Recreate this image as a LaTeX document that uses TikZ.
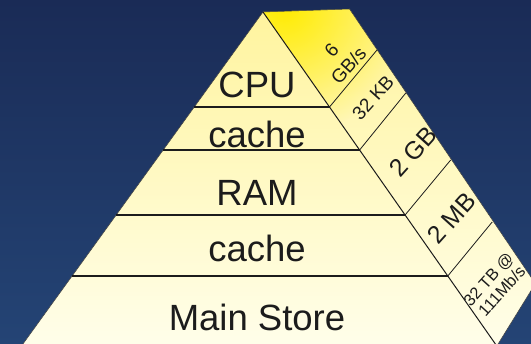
\documentclass[tikz,border=0pt]{standalone}
\usepackage{fontspec}
\setmainfont{Liberation Sans}
\usetikzlibrary{fadings}

\definecolor{navytop}{RGB}{26,43,86}
\definecolor{navybot}{RGB}{36,68,117}
\definecolor{creamtop}{RGB}{255,244,158}
\definecolor{creambot}{RGB}{255,254,234}
\definecolor{glowyellow}{RGB}{255,236,0}
\definecolor{ink}{RGB}{28,28,28}

\tikzfading[name=glow, inner color=transparent!0, outer color=transparent!100]

\begin{document}
\begin{tikzpicture}[x=1pt, y=-1pt,
  face/.style={top color=creamtop, bottom color=creambot},
  rim/.style={draw=ink!85, line width=0.5pt},
  level/.style={draw=ink, line width=1.2pt},
  divider/.style={draw=ink, line width=0.8pt},
  tier/.style={font=\fontsize{36.5}{40}\selectfont, text=ink, anchor=base, inner sep=0pt},
  rate/.style={text=ink, rotate=48, align=center, inner sep=0pt}]

\useasboundingbox (0,0) rectangle (531,344);
\fill[top color=navytop, bottom color=navybot] (0,0) rectangle (531,344);
\clip (0,0) rectangle (531,344);

% corners of the pyramid
\coordinate (apex) at (263,12);
\coordinate (back) at (349.5,9);
\coordinate (fl)   at (21.5,346);
\coordinate (fr)   at (496.8,346);
\coordinate (br)   at (535.4,283.6);

% level lines: left edge, front edge
\coordinate (l1L) at (194.3,107); \coordinate (l1R) at (329.5,107);
\coordinate (l2L) at (163.2,150); \coordinate (l2R) at (359.6,150);
\coordinate (l3L) at (116.2,215); \coordinate (l3R) at (405.1,215);
\coordinate (l4L) at (72.1,276);  \coordinate (l4R) at (447.8,276);
% matching points on the outer edge of the side face
\coordinate (o1) at (377.0,50);
\coordinate (o2) at (405.8,93);
\coordinate (o3) at (450.7,160);
\coordinate (o4) at (492.2,222);

% faces
\path[face] (apex) -- (fr) -- (fl) -- cycle;
\path[face] (apex) -- (back) -- (br) -- (fr) -- cycle;
\begin{scope}
  \clip (apex) -- (back) -- (br) -- (fr) -- cycle;
  \fill[glowyellow, path fading=glow] (284,6) circle (130);
\end{scope}
\draw[rim] (apex) -- (back) -- (br) -- (fr) -- (fl) -- cycle;
\draw[divider, line width=1pt] (apex) -- (fr);

% tiers
\draw[level] (l1L) -- (l1R);
\draw[level] (l2L) -- (l2R);
\draw[level] (l3L) -- (l3R);
\draw[level] (l4L) -- (l4R);

% side face partitions
\draw[divider] (l1R) -- (o1);
\draw[divider] (l2R) -- (o2);
\draw[divider] (l3R) -- (o3);
\draw[divider] (l4R) -- (o4);

% tier names
\node[tier] (cpu)   at (257,98)  {CPU};
\node[tier] (cache1) at (257,148) {cache};
\node[tier] (ram)   at (257,206) {RAM};
\node[tier] (cache2) at (257,262) {cache};
\node[tier] (store) at (257,331) {Main Store};

% sizes and rates
\node[rate, font=\fontsize{19}{23}\selectfont] (r1) at (340,58)  {6\\GB/s};
\node[rate, font=\fontsize{19}{22}\selectfont] (r2) at (373,98)  {32 KB};
\node[rate, font=\fontsize{25}{28}\selectfont] (r3) at (413,152) {2 GB};
\node[rate, font=\fontsize{25}{28}\selectfont] (r4) at (452,218) {2 MB};
\node[rate, font=\fontsize{16.5}{18}\selectfont] (r5) at (495,285) {32 TB @\\111Mb/s};
\end{tikzpicture}
\end{document}
